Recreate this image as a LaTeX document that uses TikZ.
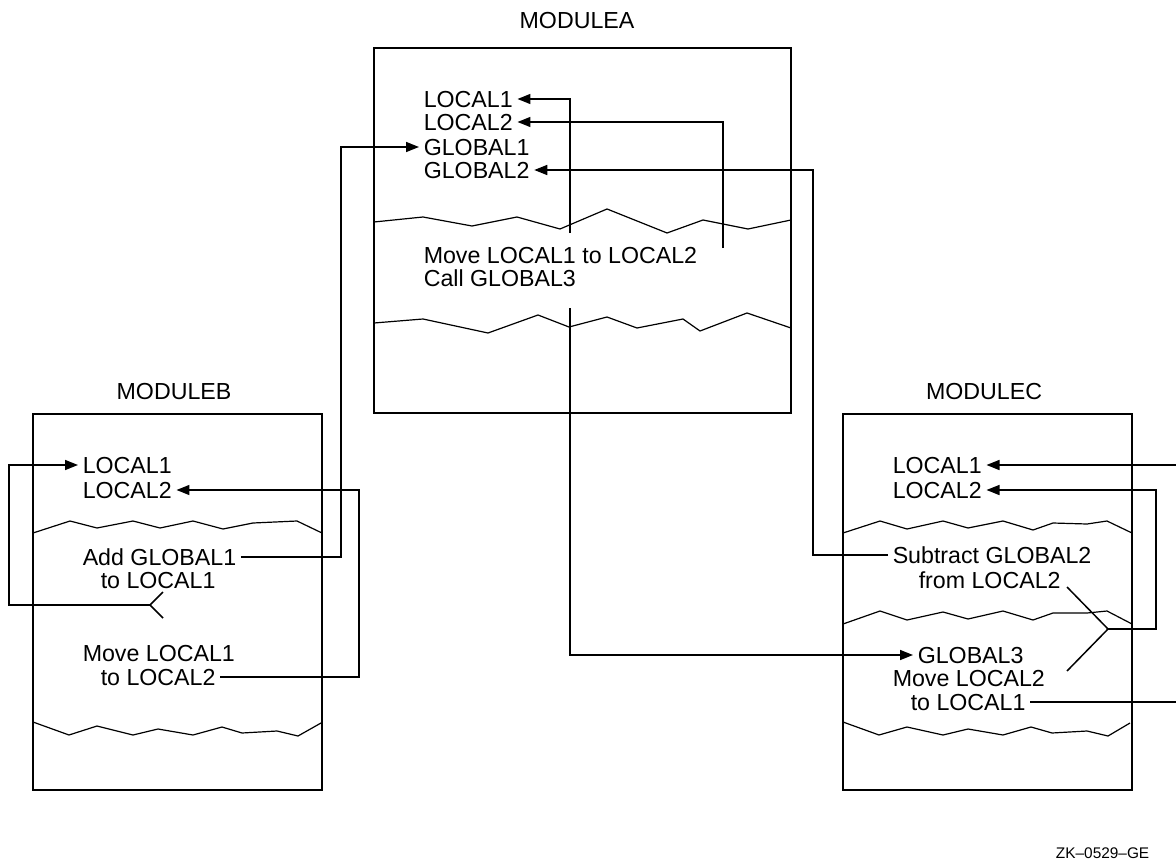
\documentclass[tikz,border=0pt]{standalone}
\usepackage{fontspec}
\setmainfont{Liberation Sans}
\usetikzlibrary{arrows.meta}
\begin{document}
\begin{tikzpicture}[x=0.5pt,y=-0.5pt,line width=0.75pt,
  txt/.style={font=\fontsize{11.6}{13}\selectfont,inner xsep=2pt,inner ysep=0pt,text height=8.3pt,text depth=0pt,anchor=west},
  ttl/.style={font=\fontsize{11.6}{13}\selectfont,inner sep=0pt,text height=8.3pt,text depth=0pt},
  arr/.style={-{Triangle[length=6.5pt,width=5pt]}},
  box/.style={draw,line width=0.8pt},
  wave/.style={line width=0.6pt,line join=miter}]
\useasboundingbox (0,0) rectangle (1176,861);

% ---------- titles ----------
\node[ttl] (tA) at (577,20) {MODULEA};
\node[ttl] (tB) at (174,391) {MODULEB};
\node[ttl] (tC) at (984,391) {MODULEC};
\node[font=\fontsize{7.7}{9}\selectfont,inner sep=0pt,anchor=east] (zk) at (1150,853) {ZK--0529--GE};

% ---------- boxes ----------
\draw[box] (374,48) rectangle (791,413);
\draw[box] (33,414) rectangle (322,790);
\draw[box] (843,414) rectangle (1132,790);

% ---------- wavy separators ----------
\draw[wave] (374,222)--(423,217)--(472,226)--(517,217)--(560,229)--(607,209)--(667,233)--(703,220)--(748,229)--(791,220);
\draw[wave] (374,323)--(423,319)--(488,333)--(538,315)--(569,327)--(607,317)--(637,328)--(683,319)--(700,331)--(747,313)--(791,328);
\draw[wave] (33,533)--(70,521)--(97,528)--(133,521)--(160,528)--(193,521)--(223,529)--(253,523)--(297,521)--(322,533);
\draw[wave] (33,722)--(69,735)--(97,726)--(133,735)--(158,729)--(193,735)--(222,727)--(242,733)--(277,731)--(298,736)--(321,723);
\draw[wave] (843,533)--(880,521)--(907,529)--(943,521)--(968,528)--(1003,521)--(1033,530)--(1053,523)--(1087,524)--(1107,521)--(1132,533);
\draw[wave] (843,624)--(880,611)--(907,620)--(943,612)--(968,619)--(1003,611)--(1033,620)--(1053,613)--(1087,613)--(1107,611)--(1132,624);
\draw[wave] (843,722)--(879,735)--(907,727)--(943,735)--(968,729)--(1003,735)--(1031,727)--(1052,733)--(1087,731)--(1108,736)--(1130,723);

% ---------- MODULEA text ----------
\node[txt] (aL1) at (419,99) {LOCAL1};
\node[txt] (aL2) at (419,122) {LOCAL2};
\node[txt] (aG1) at (419,147) {GLOBAL1};
\node[txt] (aG2) at (419,170) {GLOBAL2};
\node[txt] (aMv) at (419,255) {Move LOCAL1 to LOCAL2};
\node[txt] (aCall) at (419,278) {Call GLOBAL3};

% ---------- MODULEB text ----------
\node[txt] (bL1) at (78,465) {LOCAL1};
\node[txt] (bL2) at (78,490) {LOCAL2};
\node[txt] (bAdd) at (78,557) {Add GLOBAL1};
\node[txt] (bTo1) at (96,580) {to LOCAL1};
\node[txt] (bMv) at (78,653) {Move LOCAL1};
\node[txt] (bTo2) at (96,677) {to LOCAL2};

% ---------- MODULEC text ----------
\node[txt] (cL1) at (888,465) {LOCAL1};
\node[txt] (cL2) at (888,490) {LOCAL2};
\node[txt] (cSub) at (888,555) {Subtract GLOBAL2};
\node[txt] (cFrom) at (914,580) {from LOCAL2};
\node[txt] (cG3) at (913,655) {GLOBAL3};
\node[txt] (cMv) at (888,678) {Move LOCAL2};
\node[txt] (cTo1) at (906,702) {to LOCAL1};

% ---------- helper coordinates ----------
\coordinate (aS1) at (570,233);
\coordinate (aS2) at (723,248);
\coordinate (aS3) at (570,308);
\coordinate (jB1) at (341,300);
\coordinate (jC1) at (813,400);
\coordinate (jB2) at (359,580);
\coordinate (bApex) at (150,605);
\coordinate (bArm1) at (163,592);
\coordinate (bArm2) at (163,618);
\coordinate (jB3) at (9,540);
\coordinate (cApex) at (1108,629);
\coordinate (cArm1) at (1067,587);
\coordinate (cArm2) at (1067,671);
\coordinate (jC2) at (1156,560);
\coordinate (eR1) at (1176,465);
\coordinate (eR2) at (1176,702);

% ---------- connectors ----------
\draw[arr] (aS1) |- (aL1.east);
\draw[arr] (aS2) |- (aL2.east);
\draw[arr] (bAdd.east) -| (jB1) |- (aG1.west);
\draw[arr] (cSub.west) -| (jC1) |- (aG2.east);
\draw[arr] (aS3) |- (cG3.west);

\draw (bArm1) -- (bApex) -- (bArm2);
\draw[arr] (bApex) -| (jB3) |- (bL1.west);
\draw[arr] (bTo2.east) -| (jB2) |- (bL2.east);

\draw (cArm1) -- (cApex) -- (cArm2);
\draw[arr] (cApex) -| (jC2) |- (cL2.east);
\draw[arr] (eR1) -- (cL1.east);
\draw (cTo1.east) -- (eR2);
\end{tikzpicture}
\end{document}
